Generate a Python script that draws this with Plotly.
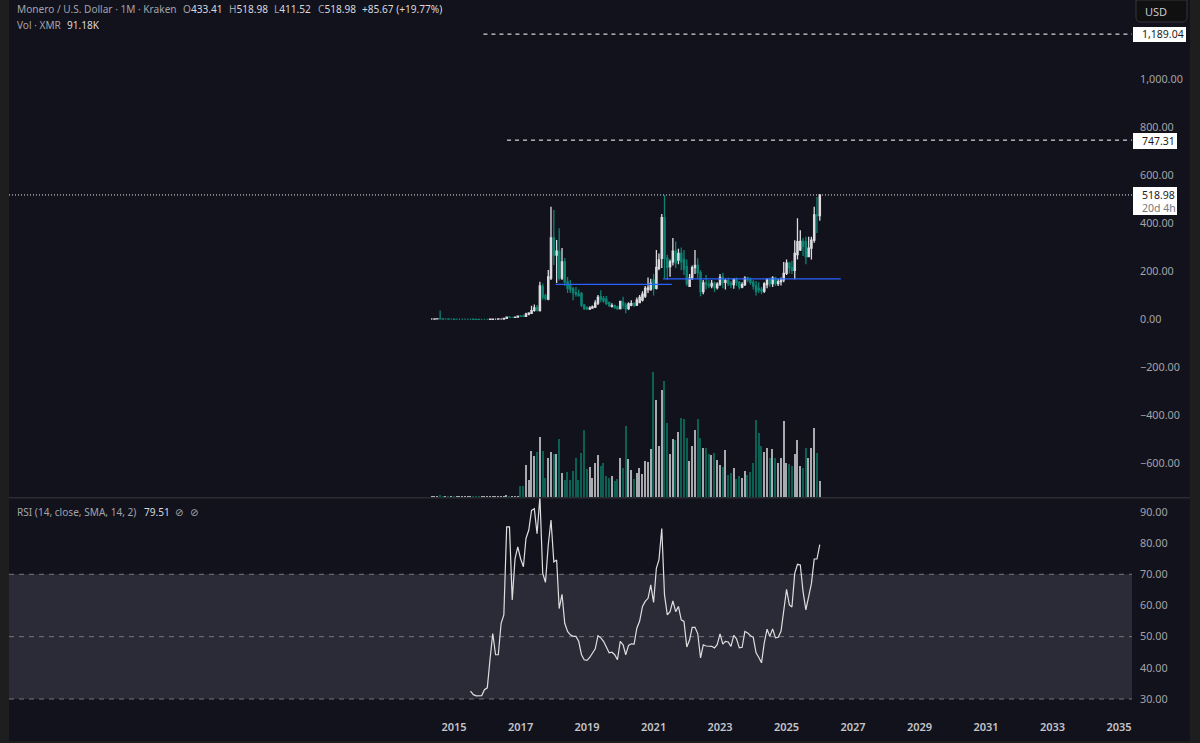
import pandas as pd
import plotly.graph_objects as go

# Monthly XMR/USD candles, May 2014 to Jan 2026
months = pd.date_range("2014-05-01", "2026-01-01", freq="MS")

opens = [2, 2, 2.5, 3, 3, 2, 2, 1.5,
         1.5, 1, 1, 1, 1, 1, 1, 1, 0.8, 0.6, 0.5, 0.5,
         0.5, 0.5, 1, 1.5, 1.5, 2, 2, 5, 10, 9, 9, 10,
         14, 14, 13, 22, 26, 38, 50, 37, 137, 99, 85, 172,
         340, 268, 285, 172, 240, 157, 140, 128, 112, 106, 108, 60,
         48, 44, 47, 52, 68, 95, 88, 85, 70, 55, 58, 52,
         45, 72, 60, 45, 60, 66, 60, 70, 81, 98, 125, 125,
         165, 130, 213, 255, 424, 255, 220, 240, 285, 247, 275, 250,
         220, 138, 172, 216, 225, 195, 116, 153, 145, 140, 150, 133,
         147, 175, 155, 162, 150, 145, 168, 155, 135, 145, 172, 165,
         155, 140, 130, 125, 118, 145, 168, 150, 172, 150, 158, 165,
         192, 235, 215, 205, 270, 290, 325, 324, 262, 297, 331, 436,
         433.41]
highs = [4, 3.5, 4, 37, 4, 3, 3, 2.5,
         2, 1.5, 1.5, 1.5, 1.5, 1.5, 1.5, 1.5, 1.2, 1, 1, 1,
         1, 2, 3, 3, 3, 4, 4, 13, 14, 11, 12, 16,
         19, 20, 28, 30, 57, 63, 60, 157, 150, 107, 206, 470,
         456, 331, 380, 298, 256, 177, 165, 135, 135, 125, 115, 65,
         55, 55, 58, 80, 102, 122, 98, 98, 75, 68, 62, 57,
         78, 95, 70, 72, 80, 72, 92, 102, 118, 140, 175, 170,
         190, 290, 275, 440, 519, 270, 250, 340, 325, 295, 300, 290,
         250, 190, 225, 290, 255, 205, 165, 185, 165, 165, 158, 155,
         190, 195, 170, 175, 160, 172, 175, 160, 155, 180, 178, 175,
         165, 160, 155, 135, 155, 172, 175, 180, 178, 170, 175, 240,
         250, 240, 245, 330, 422, 372, 340, 345, 345, 345, 470, 510,
         518.98]
lows = [1, 1, 1, 1.5, 1.5, 1, 1, 0.5,
        0.5, 0.5, 0.5, 0.5, 0.5, 0.5, 0.5, 0.5, 0.4, 0.3, 0.3, 0.3,
        0.3, 0.4, 0.8, 1, 1, 1.5, 1.5, 2, 7, 7, 7, 8,
        10, 10, 12, 18, 25, 32, 33, 33, 82, 80, 80, 165,
        227, 152, 163, 165, 140, 110, 110, 80, 95, 95, 52, 40,
        40, 40, 45, 48, 60, 72, 70, 60, 52, 50, 45, 40,
        42, 45, 26, 40, 55, 52, 56, 68, 75, 90, 110, 120,
        100, 125, 205, 215, 171, 165, 178, 225, 215, 230, 205, 185,
        140, 135, 165, 190, 170, 97, 105, 125, 130, 130, 115, 125,
        140, 130, 125, 140, 130, 128, 140, 125, 130, 140, 155, 145,
        125, 100, 110, 105, 110, 130, 135, 135, 140, 140, 142, 155,
        185, 192, 190, 168, 250, 285, 265, 230, 260, 250, 320, 360,
        411.52]
closes = [2, 2.5, 3, 2.2, 2, 2, 1.5, 1.5,
          1, 1, 1, 1, 1, 1, 1, 0.8, 0.6, 0.5, 0.5, 0.5,
          0.5, 1, 1.5, 1.5, 2, 2, 5, 10, 9, 9, 10, 14,
          13, 13, 22, 26, 37, 48, 40, 140, 93, 87, 177, 340,
          268, 285, 172, 240, 157, 130, 125, 112, 106, 100, 60, 45,
          44, 47, 52, 68, 92, 85, 78, 67, 60, 58, 50, 45,
          75, 60, 45, 65, 66, 60, 81, 92, 106, 130, 132, 150,
          130, 217, 248, 424, 255, 216, 240, 285, 236, 275, 240, 210,
          150, 172, 216, 225, 195, 116, 153, 145, 140, 150, 133, 147,
          175, 155, 162, 150, 145, 168, 155, 135, 145, 172, 165, 155,
          140, 118, 125, 118, 148, 168, 150, 172, 150, 158, 165, 192,
          235, 215, 205, 275, 324, 325, 305, 262, 297, 331, 436, 433,
          518.98]
# volume in thousands of XMR
volumes = [3, 3, 4, 6, 3, 3, 3, 3,
           3, 3, 4, 3, 3, 3, 4, 3, 3, 4, 3, 3,
           3, 4, 4, 4, 3, 4, 4, 6, 5, 4, 4, 5,
           63, 63, 180, 95, 260, 232, 255, 344, 260, 110, 220, 255,
           247, 247, 329, 139, 99, 141, 95, 148, 220, 95, 253, 384,
           158, 171, 110, 192, 241, 177, 196, 118, 110, 118, 91, 103,
           224, 163, 403, 215, 152, 105, 139, 163, 129, 205, 200, 272,
           714, 551, 289, 608, 665, 424, 243, 329, 323, 372, 452, 443,
           338, 205, 291, 384, 448, 334, 277, 277, 247, 239, 251, 209,
           181, 171, 266, 124, 135, 163, 103, 122, 108, 148, 124, 144,
           194, 439, 367, 291, 255, 277, 220, 272, 220, 196, 220, 433,
           196, 186, 175, 247, 323, 179, 163, 277, 224, 281, 395, 251,
           91.18]

# RSI starts once 14 months of closes exist
rsi = [32.5, 31.4, 31, 31, 31.1, 33, 33.6, 43, 51, 44.2, 44.2, 54.3, 57, 85.2, 85.2,
       61.8, 75, 78.8, 75, 72.4, 81.5, 84.2, 90.5, 91, 83, 94.8, 70.3, 67.4, 79.4, 87.4,
       74, 74.6, 59, 63.6, 54.3, 51.7, 50.6, 50.1, 50.1, 48.5, 44.2, 42.6,
       42.4, 43.4, 44.8, 46.1, 50.3, 49.6, 48.5, 46.4, 44.8, 45, 44.2, 42.6,
       48.5, 47.4, 44.2, 47.2, 47.7, 47.6, 52.7, 55, 59.7, 61.3, 62.3, 66.6,
       61, 72, 74.6, 84.7, 63.4, 57, 58, 61.5, 58, 59.7, 55.4, 54.9,
       46.7, 49, 53, 53, 51, 43.2, 47.4, 47, 46.9, 46.9, 46.4, 47.4,
       50.9, 47.6, 48.5, 48.3, 46.9, 50.4, 49.3, 46.4, 46.6, 51.7, 51.2, 50.3,
       49.8, 44.8, 43.4, 41.6, 48, 52.4, 50.1, 52.5, 49.6, 49.8, 51.7, 59.1,
       65.2, 60.2, 59.5, 70.3, 73.2, 73, 64.5, 58.6, 63.4, 67, 74.9, 74.9,
       79.51]
rsi_months = months[len(months) - len(rsi):]

price_ticks = [-600, -400, -200, 0, 200, 400, 600, 800, 1000]
rsi_ticks = [30, 40, 50, 60, 70, 80, 90]
year_ticks = [2015, 2017, 2019, 2021, 2023, 2025, 2027, 2029, 2031, 2033, 2035]

# horizontal levels drawn on the chart
target_high = 1189.04
target_low = 747.31
last_close = 518.98
support_old = 146.5
support_new = 169

BG = "#12121c"
STRIP = "#1e1e1e"
UP = "#ffffff"
DOWN = "#0fa088"
AXIS_TEXT = "#a3a3a8"
FONT = "Noto Sans"

# x range is set so a month takes the same width as in the reference
W, H = 1200, 743
left, right = 9, 1132
px_per_day = 0.09102
anchor = pd.Timestamp("2017-12-01")
anchor_px = 551
x_start = anchor + pd.Timedelta(days=(left - anchor_px) / px_per_day)
x_end = anchor + pd.Timedelta(days=(right - anchor_px) / px_per_day)

fig = go.Figure()

vol_colors = ["#a9a9b0" if c >= o else "#0b5f53" for o, c in zip(opens, closes)]
fig.add_trace(go.Bar(x=months, y=volumes, yaxis="y3", xaxis="x", width=1.35e9,
                     marker=dict(color=vol_colors, line=dict(width=0))))

fig.add_trace(go.Candlestick(x=months, open=opens, high=highs, low=lows, close=closes,
                             increasing=dict(fillcolor=UP, line=dict(color="#dcdce0", width=1.3)),
                             decreasing=dict(fillcolor=DOWN, line=dict(color="#0c8272", width=1.3)),
                             xaxis="x", yaxis="y"))

# dashed targets, dotted last price, blue support lines
fig.add_trace(go.Scatter(x=["2015-11-20", x_end], y=[target_high, target_high], mode="lines",
                         line=dict(color="#ffffff", width=1, dash="4px,4px")))
fig.add_trace(go.Scatter(x=["2016-08-05", x_end], y=[target_low, target_low], mode="lines",
                         line=dict(color="#ffffff", width=1, dash="4px,4px")))
fig.add_trace(go.Scatter(x=[x_start, x_end], y=[last_close, last_close], mode="lines",
                         line=dict(color="#e8e8e8", width=1, dash="1px,2px")))
fig.add_trace(go.Scatter(x=["2018-01-20", "2021-07-20"], y=[support_old, support_old], mode="lines",
                         line=dict(color="#2962ff", width=1.2)))
fig.add_trace(go.Scatter(x=["2021-04-15", "2026-08-20"], y=[support_new, support_new], mode="lines",
                         line=dict(color="#2962ff", width=1.2)))

fig.add_trace(go.Scatter(x=rsi_months, y=rsi, mode="lines", xaxis="x2", yaxis="y2",
                         line=dict(color="#dedee0", width=1.2)))

fig.update_layout(
    width=W, height=H,
    margin=dict(l=0, r=0, t=0, b=0),
    paper_bgcolor=BG, plot_bgcolor=BG,
    showlegend=False, hovermode=False,
    font=dict(family=FONT, size=11, color=AXIS_TEXT),
    bargap=0,
    xaxis=dict(domain=[left / W, right / W], range=[x_start, x_end], type="date",
               showticklabels=False, showgrid=False, zeroline=False,
               rangeslider=dict(visible=False), anchor="y"),
    xaxis2=dict(domain=[left / W, right / W], range=[x_start, x_end], type="date", matches="x",
                tickvals=[f"{y}-01-01" for y in year_ticks], ticktext=[str(y) for y in year_ticks],
                tickfont=dict(family=FONT, size=11, color="#c4c4c8", weight=600),
                ticks="", showgrid=False, zeroline=False, anchor="y2"),
    yaxis=dict(domain=[(H - 497) / H, 1], range=[-739.6, 1331.25], side="right", anchor="x",
               tickvals=price_ticks, tickformat=",.2f", ticks="", showgrid=False, zeroline=False,
               ticklabelstandoff=7, tickfont=dict(size=10.8)),
    yaxis2=dict(domain=[(H - 719) / H, (H - 498) / H], range=[23.59, 94.47], side="right", anchor="x2",
                tickvals=rsi_ticks, tickformat=".2f", ticks="", showgrid=False, zeroline=False,
                ticklabelstandoff=7, tickfont=dict(size=10.8)),
    yaxis3=dict(domain=[(H - 497) / H, 1], range=[0, 2837], overlaying="y", visible=False),
)

# RSI band and its guide lines
fig.add_shape(type="rect", xref="x2 domain", yref="y2", x0=0, x1=1, y0=30, y1=70,
              fillcolor="#2a2b36", line=dict(width=0), layer="below")
for level in [30, 50, 70]:
    fig.add_shape(type="line", xref="x2 domain", yref="y2", x0=0, x1=1, y0=level, y1=level,
                  line=dict(color="#75757c", width=1, dash="5px,5px"), layer="below")

# window chrome around the panes, in pixels of the page
def px_rect(x0, y0, x1, y1, color):
    fig.add_shape(type="rect", xref="paper", yref="paper", x0=x0 / W, x1=x1 / W,
                  y0=1 - y1 / H, y1=1 - y0 / H, fillcolor=color, line=dict(width=0), layer="above")

px_rect(0, 0, 9, H, STRIP)
px_rect(1190, 0, W, H, STRIP)
px_rect(0, 741, W, H, STRIP)
px_rect(9, 497, 1190, 498.5, "#2b2b33")
px_rect(1133, 27, 1186, 42, "#ffffff")
px_rect(1133, 133, 1177, 149, "#ffffff")
px_rect(1133, 187, 1177, 215, "#ffffff")

# USD button
fig.add_shape(type="path", xref="paper", yref="paper",
              path=(f"M {1136 / W} {1} L {1136 / W} {1 - 17 / H} Q {1136 / W} {1 - 22 / H} {1141 / W} {1 - 22 / H} "
                    f"L {1182 / W} {1 - 22 / H} Q {1187 / W} {1 - 22 / H} {1187 / W} {1 - 17 / H} L {1187 / W} {1} Z"),
              fillcolor="#101010", line=dict(color="#33343a", width=1), layer="above")


def label(x, y, text, color="#a3a3a8", size=10.1, weight=400, anchor_x="left", family=FONT):
    fig.add_annotation(xref="paper", yref="paper", x=x / W, y=1 - y / H, text=text, showarrow=False,
                       xanchor=anchor_x, yanchor="middle", align="left",
                       font=dict(family=family, size=size, color=color, weight=weight),
                       borderpad=0, bgcolor="rgba(0,0,0,0)")


# header legend
label(16, 9, "Monero / U.S. Dollar · 1M · Kraken")
label(182, 9, "O<span style='color:#d8d8dc'>433.41</span>")
label(228, 9, "H<span style='color:#d8d8dc'>518.98</span>")
label(273, 9, "L<span style='color:#d8d8dc'>411.52</span>")
label(317, 9, "C<span style='color:#d8d8dc'>518.98</span>")
label(361, 9, "+85.67 (+19.77%)", color="#d8d8dc")
label(16, 25, "Vol · XMR")
label(66, 25, "91.18K", color="#d8d8dc")
label(16, 512, "RSI (14, close, SMA, 14, 2)")
label(143, 512, "79.51", color="#d8d8dc")
label(174, 512, "⊘", family="DejaVu Sans")
label(189, 512, "⊘", family="DejaVu Sans")

# price axis tags
label(1144, 11, "USD", color="#c8c8cc", size=11)
label(1141, 34, "1,189.04", color="#1c1c22", size=10.5)
label(1141, 141, "747.31", color="#1c1c22", size=10.5)
label(1141, 195, "518.98", color="#1c1c22", size=10.5)
label(1141, 208, "20d 4h", color="#77777d", size=10.5)

fig.write_html("out.html", config={"displayModeBar": False},
               post_script="document.body.style.margin='0';document.documentElement.style.overflow='hidden';")
